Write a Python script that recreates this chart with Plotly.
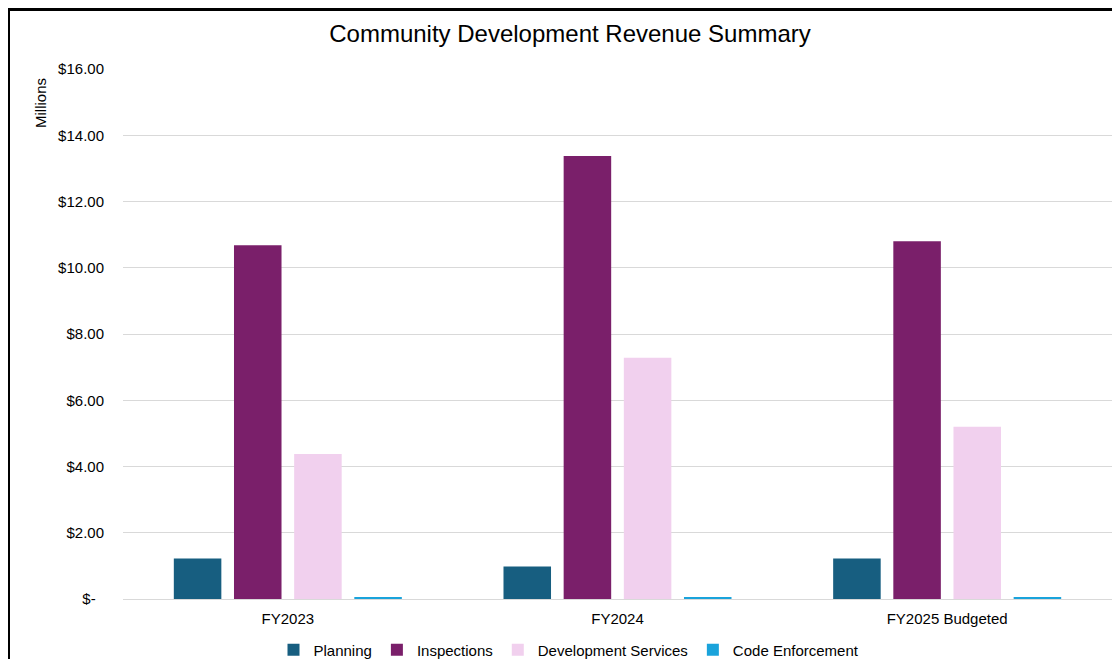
import plotly.graph_objects as go

categories = ["FY2023", "FY2024", "FY2025 Budgeted"]
planning = [1.22, 0.98, 1.22]
inspections = [10.68, 13.37, 10.80]
development_services = [4.38, 7.28, 5.20]
code_enforcement = [0.06, 0.06, 0.06]

series_names = ["Planning", "Inspections", "Development Services", "Code Enforcement"]
series_values = [planning, inspections, development_services, code_enforcement]
series_colors = ["#175E80", "#7A1F6A", "#F1D0EE", "#1AA3DB"]

tick_vals = [0, 2, 4, 6, 8, 10, 12, 14, 16]
tick_text = ["$-\u00a0\u00a0", "$2.00", "$4.00", "$6.00", "$8.00", "$10.00", "$12.00", "$14.00", "$16.00"]

fig = go.Figure()
for name, vals, col in zip(series_names, series_values, series_colors):
    fig.add_trace(go.Bar(name=name, x=categories, y=vals, marker=dict(color=col, line=dict(width=0))))

# page body has an 8px margin; work in reference pixel coords and subtract it
OFF = 8
W, H = 1104, 651
ml, mr, mt, mb = 123 - OFF, 0, 69 - OFF, H - (599 - OFF)
pw, ph = W - ml - mr, H - mt - mb

def px_x(x):
    return (x - OFF - ml) / pw

def px_y(y):
    return 1 - (y - OFF - mt) / ph

fig.update_layout(
    width=W, height=H, autosize=False,
    margin=dict(l=ml, r=mr, t=mt, b=mb, autoexpand=False),
    paper_bgcolor="white", plot_bgcolor="white",
    font=dict(family="Liberation Sans, Arial, sans-serif", color="#000000", size=15),
    barmode="group", bargap=0.27, bargroupgap=0.21,
    title=dict(text="Community Development Revenue Summary", x=(570 - OFF) / W, xanchor="center",
               y=1 - (34 - OFF) / H, yanchor="middle", font=dict(size=24, color="#000000")),
    showlegend=True,
    legend=dict(orientation="h", x=px_x(569), xanchor="center", y=px_y(650), yanchor="middle",
                font=dict(size=15), itemwidth=30, traceorder="normal"),
    xaxis=dict(showgrid=False, showline=True, linecolor="#D9D9D9", linewidth=1,
               ticks="", ticklabelstandoff=6, tickfont=dict(size=15)),
    yaxis=dict(range=[0, 16], tickvals=tick_vals, ticktext=tick_text, showgrid=True,
               gridcolor="#D9D9D9", gridwidth=1, zeroline=False, showline=False,
               ticks="", ticklabelstandoff=18, tickfont=dict(size=15)),
    annotations=[dict(text="Millions", xref="paper", yref="paper", x=px_x(40), y=px_y(103),
                      textangle=-90, showarrow=False, xanchor="center", yanchor="middle",
                      font=dict(size=15))],
    shapes=[dict(type="rect", xref="paper", yref="paper", x0=px_x(8.5), x1=px_x(1135),
                 y0=px_y(690), y1=px_y(9.5), line=dict(color="#000000", width=3),
                 fillcolor="rgba(0,0,0,0)", layer="above")],
)

fig.write_html("out.html")
